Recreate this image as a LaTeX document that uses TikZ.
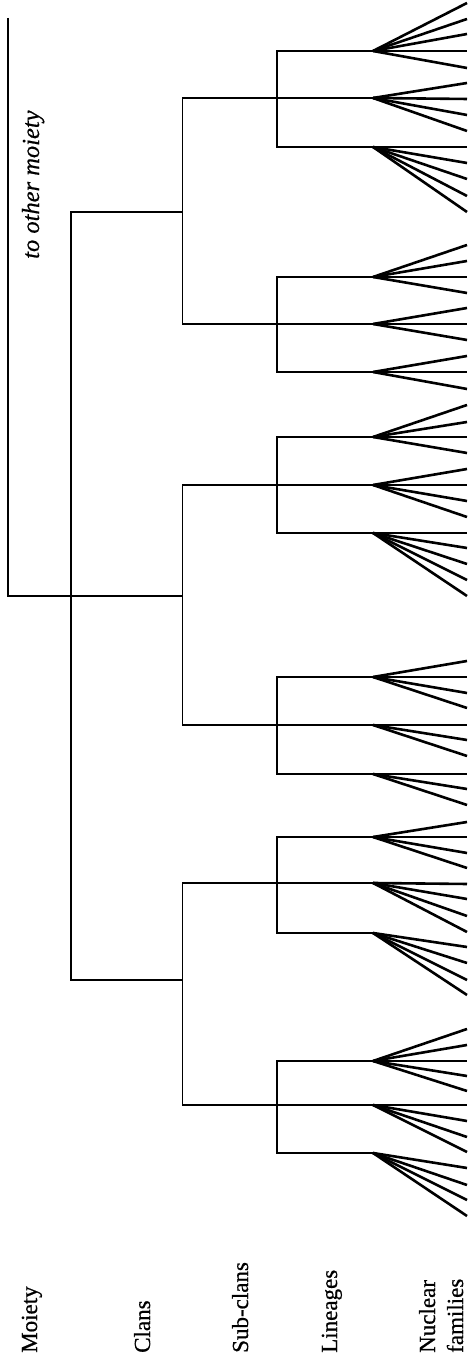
\documentclass[tikz,border=0pt]{standalone}
\usepackage{fontspec}
\setmainfont{Liberation Serif}
\newfontfamily\labfont{Liberation Serif}[FakeBold=0.7]
\newfontfamily\itlabfont{Liberation Serif Italic}[FakeBold=0.5]
\begin{document}
\begin{tikzpicture}[x=1pt,y=1pt,
  tree/.style={line width=1.7pt, line join=miter},
  fan/.style={line width=2.6pt},
  lab/.style={rotate=90, anchor=base west, inner sep=0pt, font=\labfont\fontsize{23}{28}\selectfont},
  itlab/.style={rotate=90, anchor=base west, inner sep=0pt, font=\itlabfont\fontsize{24.5}{28}\selectfont}]
\useasboundingbox (0,0) rectangle (468,1366);
% moiety
\coordinate (mtop) at (8,{1366-18});
\coordinate (mbot) at (8,{1366-596});
\coordinate (mend) at (182.5,{1366-596});
\draw[tree] (mtop) -- (mbot) -- (mend);
% clans
\coordinate (cA) at (182.5,{1366-212});
\coordinate (cAs) at (71,{1366-212});
\coordinate (cCs) at (71,{1366-980});
\coordinate (cC) at (182.5,{1366-980});
\draw[tree] (cA) -- (cAs) -- (cCs) -- (cC);
% sub-clans
\foreach \t/\b in {98/324, 485/725, 883/1105}{
  \coordinate (s\t-a) at (373,{1366-\t});
  \coordinate (s\t-b) at (182.5,{1366-\t});
  \coordinate (s\t-c) at (182.5,{1366-\b});
  \coordinate (s\t-d) at (373,{1366-\b});
  \draw[tree] (s\t-a) -- (s\t-b) -- (s\t-c) -- (s\t-d);
}
% lineages
\foreach \t/\b in {51/147, 277/372, 437/533, 677/774, 837/933, 1061/1153}{
  \coordinate (l\t-a) at (373,{1366-\t});
  \coordinate (l\t-b) at (277,{1366-\t});
  \coordinate (l\t-c) at (277,{1366-\b});
  \coordinate (l\t-d) at (373,{1366-\b});
  \draw[tree] (l\t-a) -- (l\t-b) -- (l\t-c) -- (l\t-d);
}
% nuclear families (fans)
\foreach \a/\leaves in {51/{3,19,34,51,68}, 98/{83,99,115,131}, 147/{147,163,179,196,212},
  277/{245,261,277,293}, 324/{308,324,340}, 372/{356,372,389},
  437/{405,422,437,453}, 485/{469,485,501,517}, 533/{533,548,564,580,596},
  677/{661,677,693,708}, 725/{725,740,756}, 774/{774,789,805},
  837/{822,837,853,868}, 883/{884,899,916,932}, 933/{947,963,980,995},
  1061/{1029,1045,1061,1076,1091}, 1105/{1105,1121,1137,1152}, 1153/{1168,1185,1200,1216}}{
  \coordinate (ap\a) at (373,{1366-\a});
  \foreach \l in \leaves{
    \coordinate (nf\a-\l) at (467,{1366-\l});
    \draw[fan] (ap\a) -- (nf\a-\l);
  }
}
% labels
\node[itlab] (other) at (39,{1366-259}) {to other moiety};
\node[lab] (moiety) at (37,13) {Moiety};
\node[lab] (clans) at (150,13) {Clans};
\node[lab] (subclans) at (248,13) {Sub-clans};
\node[lab] (lineages) at (337,13) {Lineages};
\node[lab] (nuclear) at (435,13) {Nuclear};
\node[lab] (families) at (463,13) {families};
\end{tikzpicture}
\end{document}
